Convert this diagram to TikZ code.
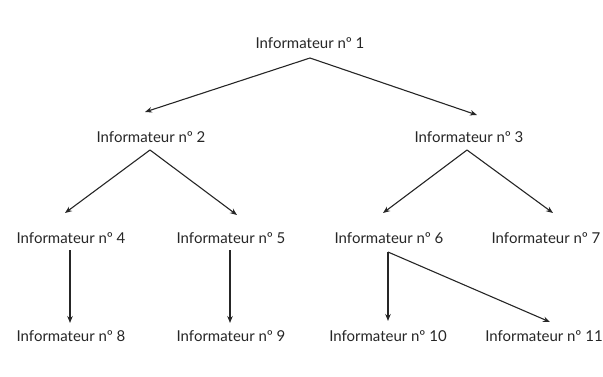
\documentclass[tikz,border=0pt]{standalone}
\usepackage{fontspec}
\setmainfont{Lato}
\usepackage{tikz}
\usetikzlibrary{arrows.meta}

\begin{document}
\begin{tikzpicture}[x=1pt, y=-1pt,
  inf/.style={inner sep=0pt, text=black!85, font=\fontsize{15}{17}\selectfont},
  arr/.style={-{Stealth[length=7pt,width=5.5pt]}, line width=1.1pt, black!85}]
\useasboundingbox (0,0) rectangle (603,376);
\node[inf] (n1) at (310,43) {Informateur nº 1};
\node[inf] (n2) at (151,137) {Informateur nº 2};
\node[inf] (n3) at (469,137) {Informateur nº 3};
\node[inf] (n4) at (71,238) {Informateur nº 4};
\node[inf] (n5) at (231,238) {Informateur nº 5};
\node[inf] (n6) at (389,238) {Informateur nº 6};
\node[inf] (n7) at (546,238) {Informateur nº 7};
\node[inf] (n8) at (71,336) {Informateur nº 8};
\node[inf] (n9) at (231,336) {Informateur nº 9};
\node[inf] (n10) at (388,336) {Informateur nº 10};
\node[inf] (n11) at (544,336) {Informateur nº 11};
% first level
\draw[arr] ([shift={(0,15)}]n1.center) -- ([shift={(-6,-25)}]n2.center);
\draw[arr] ([shift={(0,15)}]n1.center) -- ([shift={(8,-22)}]n3.center);
% second level
\draw[arr] ([shift={(-1,13)}]n2.center) -- ([shift={(-6,-25)}]n4.center);
\draw[arr] ([shift={(-1,13)}]n2.center) -- ([shift={(6,-23)}]n5.center);
\draw[arr] ([shift={(-2,13)}]n3.center) -- ([shift={(-6,-25)}]n6.center);
\draw[arr] ([shift={(-2,13)}]n3.center) -- ([shift={(7,-25)}]n7.center);
% third level
\draw[arr] ([shift={(-1,12)}]n4.center) -- ([shift={(-1,-13)}]n8.center);
\draw[arr] ([shift={(-1,12)}]n5.center) -- ([shift={(-1,-13)}]n9.center);
\draw[arr] ([shift={(-1,14)}]n6.center) -- ([shift={(0,-15)}]n10.center);
\draw[arr] ([shift={(-1,14)}]n6.center) -- ([shift={(6,-14)}]n11.center);
\end{tikzpicture}
\end{document}
